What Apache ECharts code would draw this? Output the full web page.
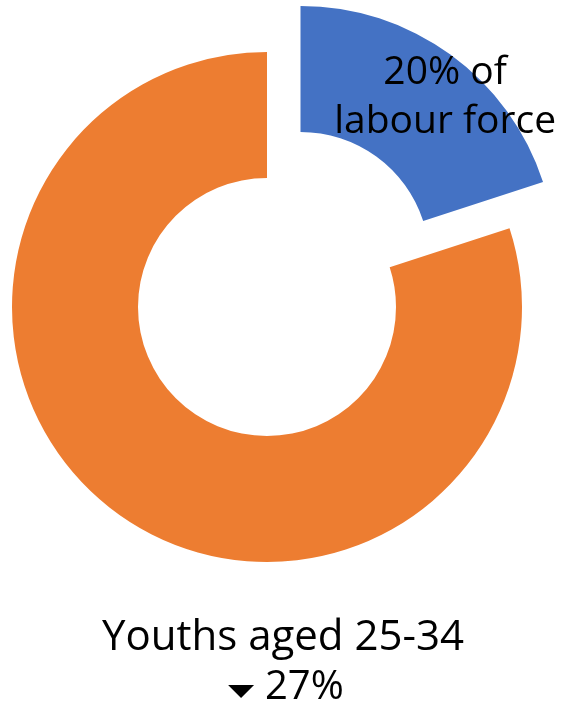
<!DOCTYPE html>
<html>
<head>
<meta charset="utf-8">
<script src="https://cdn.jsdelivr.net/npm/echarts@6/dist/echarts.min.js"></script>
<style>
html,body{margin:0;padding:0;background:#fff;}
#chart{width:568px;height:708px;}
</style>
</head>
<body>
<div id="chart"></div>
<script>
const categories = ['Youths aged 25-34 in labour force', 'Rest of labour force'];
const values = [20, 80];
const sliceLabel = '20% of\nlabour force';
const footerTitle = 'Youths aged 25-34';
const footerChange = '27%';

const chart = echarts.init(document.getElementById('chart'), null, {renderer: 'canvas'});
const FONT = '"Open Sans", Lato, sans-serif';
chart.setOption({
  animation: false,
  series: [{
    type: 'pie',
    center: [267, 307],
    radius: [129, 255],
    startAngle: 90,
    clockwise: true,
    selectedMode: 'single',
    selectedOffset: 57,
    emphasis: {disabled: true},
    label: {show: false},
    labelLine: {show: false},
    labelLayout: function (p) {
      return p.dataIndex === 0 ? {dx: 30, dy: -6} : {};
    },
    data: [
      {
        name: categories[0], value: values[0], selected: true,
        itemStyle: {color: '#4472C4'},
        label: {
          show: true, position: 'inside', formatter: sliceLabel,
          color: '#000', fontSize: 39, lineHeight: 49, fontFamily: FONT
        }
      },
      {name: categories[1], value: values[1], itemStyle: {color: '#ED7D31'}}
    ]
  }],
  graphic: [
    {
      type: 'text', x: 283, y: 638,
      style: {text: footerTitle, font: '42px ' + FONT, fill: '#000', textAlign: 'center', textVerticalAlign: 'middle'}
    },
    {
      type: 'text', x: 241, y: 691.5, scaleY: 0.5,
      style: {text: '▼', font: '34px "DejaVu Sans"', fill: '#000', textAlign: 'center', textVerticalAlign: 'middle'}
    },
    {
      type: 'text', x: 265, y: 688,
      style: {text: footerChange, font: '40px ' + FONT, fill: '#000', textAlign: 'left', textVerticalAlign: 'middle'}
    }
  ]
});
</script>
</body>
</html>
